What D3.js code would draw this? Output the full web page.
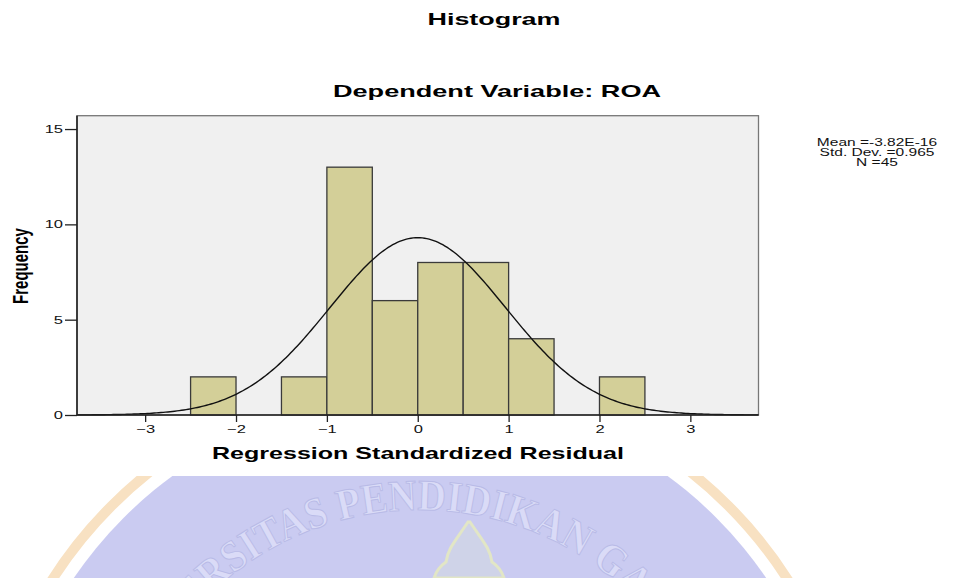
<!DOCTYPE html>
<html>
<head>
<meta charset="utf-8">
<script src='https://d3js.org/d3.v7.min.js'></script>
<style>
  body {margin: 0; background: white;}
  text {font-family: 'Liberation Sans', Arial, sans-serif;}
  .bar {fill: #d3cf98; stroke: #3a3a3a; stroke-width: 1.3;}
  .axis path, .axis line {stroke: #222; stroke-width: 1.3;}
  .axis text {fill: #111;}
</style>
</head>
<body onload='init()'>
<svg width=953 height=578></svg>
<script>
// histogram bins (lower edge, upper edge, count)
var binLo = [-2.5, -1.5, -1.0, -0.5, 0.0, 0.5, 1.0, 2.0];
var binHi = [-2.0, -1.0, -0.5, 0.0, 0.5, 1.0, 1.5, 2.5];
var counts = [2, 2, 13, 6, 8, 8, 4, 2];
var xTicks = [-3, -2, -1, 0, 1, 2, 3];
var yTicks = [0, 5, 10, 15];
var stats = ['Mean =-3.82E-16', 'Std. Dev. =0.965', 'N =45'];
var mean = -3.82e-16, sd = 0.965, n = 45, binWidth = 0.5;

// text in the source image is stretched horizontally
function stretch(sel, k) {
  sel.each(function() {
    var w = this.getComputedTextLength();
    d3.select(this).attr('textLength', w * k).attr('lengthAdjust', 'spacingAndGlyphs');
  });
}

function init() {
  var svg = d3.select('svg');

  // faint watermark at the bottom, cropped at y=476
  svg.append('clipPath').attr('id', 'wmclip')
    .append('rect').attr('x', 0).attr('y', 476).attr('width', 953).attr('height', 102);
  var wm = svg.append('g').attr('clip-path', 'url(#wmclip)');
  var cx = 420, cy = 814, r = 436;
  wm.append('circle').attr('cx', cx).attr('cy', cy).attr('r', r)
    .attr('fill', 'none').attr('stroke', '#f8e1c2').attr('stroke-width', 10);
  wm.append('circle').attr('cx', cx).attr('cy', cy).attr('r', r - 17)
    .attr('fill', '#cacbf1');
  wm.append('path').attr('id', 'arc').attr('fill', 'none')
    .attr('d', 'M' + (cx - 304) + ',' + cy + ' A304,304 0 0 1 ' + (cx + 304) + ',' + cy);
  wm.append('text')
    .style('font-family', "'Liberation Serif', serif").style('font-weight', 'bold')
    .attr('font-size', 44).style('fill', '#dadbf7').style('stroke', '#b9bbe7').style('stroke-width', 1)
    .append('textPath').attr('href', '#arc').attr('startOffset', '51%').attr('text-anchor', 'middle')
    .attr('textLength', 730).attr('lengthAdjust', 'spacingAndGlyphs')
    .text('UNIVERSITAS PENDIDIKAN GANESHA');
  wm.append('path').attr('fill', '#cfd3e8').attr('stroke', '#e2e6c6').attr('stroke-width', 3)
    .attr('d', 'M468,522 C456,540 448,548 446,562 C440,566 436,572 434,578 L504,578 C502,572 498,566 492,562 C490,548 482,540 470,522 Z');

  var left = 77, right = 758.5, top = 115.7, bottom = 415;
  var xs = d3.scaleLinear().domain([-3.75, 3.75]).range([left, right]);
  var ys = d3.scaleLinear().domain([0, 15.7]).range([bottom, top]);

  svg.append('rect').attr('x', left).attr('y', top)
    .attr('width', right - left).attr('height', bottom - top)
    .attr('fill', '#f0f0f0').attr('stroke', '#777').attr('stroke-width', 1.3);

  svg.append('g').selectAll('rect')
    .data(counts).enter().append('rect')
      .attr('class', 'bar')
      .attr('x', function(d, i) { return xs(binLo[i]); })
      .attr('width', function(d, i) { return xs(binHi[i]) - xs(binLo[i]); })
      .attr('y', function(d) { return ys(d); })
      .attr('height', function(d) { return ys(0) - ys(d); });

  // normal curve from the reported mean / sd
  var pts = d3.range(-3.75, 3.751, 0.025).map(function(x) {
    var z = (x - mean) / sd;
    return [x, n * binWidth * Math.exp(-z * z / 2) / (sd * Math.sqrt(2 * Math.PI))];
  });
  svg.append('path').datum(pts)
    .attr('fill', 'none').attr('stroke', '#111').attr('stroke-width', 1.4)
    .attr('d', d3.line().x(function(d) { return xs(d[0]); }).y(function(d) { return ys(d[1]); }));

  var xa = svg.append('g').attr('class', 'axis')
    .attr('transform', 'translate(0,' + bottom + ')')
    .call(d3.axisBottom(xs).tickValues(xTicks).tickSize(7).tickPadding(3).tickSizeOuter(0));
  var ya = svg.append('g').attr('class', 'axis')
    .attr('transform', 'translate(' + left + ',0)')
    .call(d3.axisLeft(ys).tickValues(yTicks).tickSize(12).tickPadding(2).tickSizeOuter(0));
  xa.select('.domain').remove();
  ya.select('.domain').remove();
  xa.selectAll('text').attr('font-size', 11).style('font-family', "'Liberation Sans', Arial").call(stretch, 1.5);
  ya.selectAll('text').attr('font-size', 11).style('font-family', "'Liberation Sans', Arial").call(stretch, 1.5);
  svg.append('line').attr('x1', left).attr('x2', left).attr('y1', top).attr('y2', bottom)
    .attr('stroke', '#222').attr('stroke-width', 1.6);
  svg.append('line').attr('x1', left).attr('x2', right).attr('y1', bottom).attr('y2', bottom)
    .attr('stroke', '#222').attr('stroke-width', 1.6);

  svg.append('text').attr('x', 494).attr('y', 25).attr('text-anchor', 'middle')
    .attr('font-size', 17).attr('font-weight', 'bold')
    .attr('textLength', 133).attr('lengthAdjust', 'spacingAndGlyphs').text('Histogram');
  svg.append('text').attr('x', 497).attr('y', 97).attr('text-anchor', 'middle')
    .attr('font-size', 17).attr('font-weight', 'bold')
    .attr('textLength', 328).attr('lengthAdjust', 'spacingAndGlyphs').text('Dependent Variable: ROA');
  svg.append('text').attr('x', 418).attr('y', 459).attr('text-anchor', 'middle')
    .attr('font-size', 17).attr('font-weight', 'bold')
    .attr('textLength', 412).attr('lengthAdjust', 'spacingAndGlyphs').text('Regression Standardized Residual');
  svg.append('text').attr('transform', 'translate(28,266) scale(1.45,1) rotate(-90)')
    .attr('text-anchor', 'middle').attr('font-size', 15).attr('font-weight', 'bold')
    .text('Frequency');

  svg.append('g').selectAll('text').data(stats).enter().append('text')
    .attr('x', 877).attr('y', function(d, i) { return 146 + i * 10; })
    .attr('text-anchor', 'middle').attr('font-size', 10).style('fill', '#111')
    .text(function(d) { return d; })
    .call(stretch, 1.55);
}
</script>
</body>
</html>
